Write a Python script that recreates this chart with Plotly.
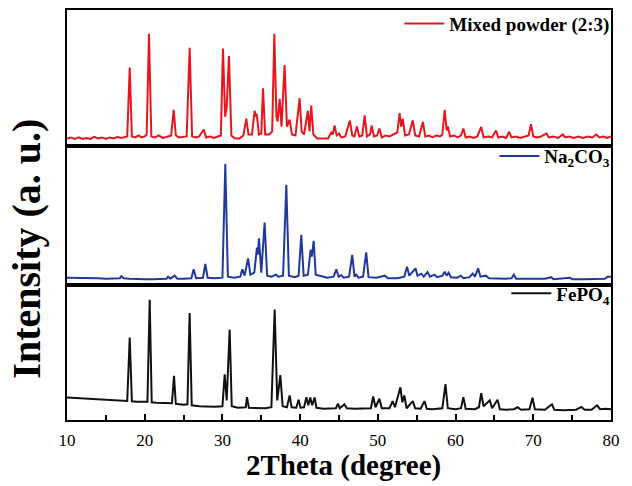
import plotly.graph_objects as go
from plotly.subplots import make_subplots

# ---------------- data ----------------
# FePO4 pattern: 2theta (deg) and intensity (a.u.)
fepo4_x = [10.0, 11, 12, 13, 14, 15, 16, 17, 17.75, 18.07, 18.35, 19, 20.0, 20.35, 20.64, 20.9, 21.5, 22.5,
           23.5, 23.77, 24.0, 25.0, 25.5, 25.78, 26.05, 27, 28, 29, 30.0, 30.29, 30.55, 30.93, 31.2, 32,
           33.0, 33.16, 33.4, 34.5, 35.5, 36.3, 36.72, 37.05, 37.45, 37.75, 38.3, 38.65, 38.9, 39.5, 39.8,
           40.05, 40.5, 40.8, 41.05, 41.3, 41.55, 41.86, 42.1, 43, 44, 44.6, 44.87, 45.1, 45.7, 46.0, 47,
           48, 49.1, 49.4, 49.7, 50.2, 50.5, 51.5, 51.9, 52.2, 52.9, 53.15, 53.4, 53.7, 54.5, 54.8, 55.5,
           56.0, 56.3, 57, 58.3, 58.7, 59.0, 60, 60.7, 61.0, 61.3, 62.5, 63.0, 63.3, 63.6, 64.4, 64.7, 65.4,
           65.7, 66.5, 67.5, 68.0, 68.4, 69.5, 69.9, 70.2, 71.5, 72.4, 72.7, 74, 75.5, 76.2, 76.6, 77.5,
           78.2, 78.6, 79.3, 80]
fepo4_y = [23, 22.5, 22, 21.5, 21, 20.5, 20, 19.5, 19.5, 84, 19, 18.5, 18, 18.5, 122.7, 18, 17.5, 17,
           17, 45, 16.5, 15.5, 16, 109, 15, 14, 13.5, 13.5, 14, 46.7, 20, 92.3, 14, 12.5,
           13, 23.3, 12.5, 12, 12, 13, 112.7, 20, 45.7, 14, 13, 25, 13, 12.5, 20.7,
           12.5, 13, 23.3, 15, 23, 15, 23, 12.5, 11.5, 11.5, 12, 16.7, 12, 16, 12, 11.5,
           11.5, 12, 24, 13, 21.7, 12, 12, 19.3, 13, 33.3, 18, 25, 12, 19.3, 12, 11.5,
           19.3, 11.5, 11, 12, 36.7, 12, 11, 12, 23.3, 11.5, 11, 13, 27.3, 14, 20, 12, 20.7,
           11, 10.5, 11, 13, 10.5, 11, 22.7, 11, 10.5, 16, 10.5, 10, 10.5, 13.3, 10.5, 10.5,
           15, 11, 11.5, 11]

# Na2CO3 pattern
na2co3_x = [10, 11, 12, 13, 14, 15, 16, 16.8, 17.0, 17.3, 18, 19, 20, 21, 22, 22.8, 23.0, 23.3, 23.85,
            24.2, 25, 26.0, 26.3, 26.6, 27.5, 27.8, 28.1, 29, 30.0, 30.37, 30.7, 31.5, 32.3, 32.56,
            32.85, 33.3, 33.6, 34.1, 34.44, 34.55, 34.7, 35.0, 35.43, 35.75, 36.3, 36.9, 37.2, 37.8,
            38.22, 38.55, 39.3, 39.8, 40.15, 40.45, 41.0, 41.35, 41.5, 41.74, 42.0, 42.7, 43.5, 44.3,
            44.66, 44.95, 45.3, 45.6, 46.3, 46.7, 47.0, 47.2, 47.5, 48.1, 48.5, 48.8, 49.8, 50.9, 51.3,
            52.5, 53.4, 53.75, 54.05, 54.85, 55.1, 55.6, 55.9, 56.4, 56.7, 57.3, 57.6, 58.3, 58.6, 58.85,
            59.1, 59.4, 60.2, 60.7, 61.0, 61.8, 62.2, 62.5, 62.9, 63.2, 63.9, 64.3, 65.5, 66.5, 67.2,
            67.5, 67.8, 69, 70, 71.5, 72.3, 72.6, 74.7, 75, 76.5, 78, 79.2, 79.6, 80]
na2co3_y = [7, 7, 6.5, 6.5, 6.5, 6, 6, 6.5, 8.5, 6.5, 6, 5.5, 5.5, 5.5, 5.5, 6, 8, 6, 9,
            6, 6, 6.5, 15.3, 6.5, 7, 20.7, 7, 6.5, 7, 120.3, 8, 7, 8, 15.3,
            9, 26.3, 10, 12, 37, 30, 46.3, 12, 62, 9, 8, 10, 8, 9,
            99.7, 9, 7.5, 9, 49.7, 9, 10, 34.7, 28, 43.7, 10, 8.5, 7, 8,
            15.3, 8, 9.5, 7, 8, 29.7, 8, 10, 7, 8, 32.3, 7.5, 7, 9, 6.5,
            6.5, 8, 18, 9, 16.3, 9, 11, 8, 12.7, 8, 10, 7.5, 9, 13, 9,
            12, 7.5, 7, 9, 6.5, 7.5, 11, 8, 16.3, 8, 9, 6.5, 6, 6, 6.5,
            10, 6, 6, 5.5, 6, 7.5, 5.5, 7, 5.5, 5.5, 6, 6, 8, 8]

# Mixed powder (2:3) pattern
mixed_x = [10, 10.5, 11, 11.5, 12, 12.5, 13, 13.5, 14, 14.5, 15, 15.5, 16, 16.5, 17, 17.5, 17.75, 18.07,
           18.35, 18.8, 19.2, 19.6, 20.0, 20.25, 20.55, 20.85, 21.3, 21.8, 22.3, 22.8, 23.4, 23.73, 24.0,
           24.4, 25.0, 25.4, 25.78, 26.1, 26.6, 27.0, 27.6, 27.9, 28.4, 28.9, 29.4, 29.8, 30.07, 30.35,
           30.55, 30.84, 31.15, 31.6, 32.2, 32.7, 33.07, 33.35, 33.8, 34.14, 34.3, 34.4, 34.7, 35.0,
           35.22, 35.5, 36.0, 36.4, 36.68, 36.95, 37.1, 37.37, 37.6, 38.0, 38.3, 38.65, 38.95, 39.4,
           39.93, 40.2, 40.5, 40.8, 41.0, 41.2, 41.43, 41.7, 42.2, 43.0, 43.6, 44.0, 44.2, 44.43, 44.7,
           45.0, 45.3, 45.8, 46.4, 46.7, 47.0, 47.3, 47.6, 48.0, 48.3, 48.6, 49.0, 49.2, 49.5, 49.9,
           50.2, 50.5, 51.0, 51.5, 52.0, 52.5, 52.8, 53.0, 53.2, 53.5, 54.0, 54.5, 54.8, 55.3, 55.8,
           56.1, 56.6, 57.0, 57.5, 58.0, 58.3, 58.6, 58.85, 59.0, 59.3, 59.8, 60.3, 60.7, 61.0, 61.3,
           61.8, 62.3, 62.8, 63.3, 63.6, 64.2, 64.7, 65.2, 65.5, 66.0, 66.5, 66.9, 67.2, 67.8, 68.3,
           68.9, 69.4, 69.7, 70.0, 70.5, 71.0, 71.7, 72.0, 72.6, 73.2, 73.8, 74.1, 74.6, 75.2, 75.8,
           76.4, 77.0, 77.6, 78.1, 78.5, 79.0, 79.5, 80]
mixed_y = [8, 9, 7.5, 9, 7.5, 8.5, 7.5, 9.5, 8, 9, 7.5, 9, 8, 9.5, 8.5, 9, 10, 79.7,
           10, 9, 11, 9, 10, 12, 114, 10, 9, 11, 8.5, 9.5, 11, 37, 11,
           9, 9.5, 10, 99.7, 10, 9, 10, 17, 9, 10, 8.5, 10, 11, 99, 30,
           40, 91.3, 11, 8, 8, 11, 28, 12, 12, 36, 30, 33, 12, 13,
           58.7, 12, 12, 15, 114, 30, 25, 48, 20, 82.3, 20, 27, 12, 11,
           48.7, 15, 12, 25, 36, 15, 41.3, 12, 8, 8, 8, 14, 12, 21, 11,
           13, 9, 10, 26, 11, 10, 20, 10, 11, 31.3, 10, 12, 21, 10, 11,
           18, 9, 11, 10, 12, 14, 33.7, 20, 28, 11, 12, 26.3, 11, 10, 24.7,
           10, 11, 9, 11, 10, 12, 37, 16, 20, 10, 11, 9, 11, 18, 9,
           10, 8.5, 10, 19.7, 9, 10, 9, 16, 9, 10, 8.5, 14.7, 9, 10, 8.5,
           10, 11, 22.3, 10, 9, 10, 13, 9, 10, 8.5, 12, 9, 10, 8.5, 10,
           8.5, 10, 9, 12, 9, 10, 8.5, 10]

series_names = ["Mixed powder (2:3)", "Na<sub>2</sub>CO<sub>3</sub>", "FePO<sub>4</sub>"]
series_colors = ["#e8161c", "#1f3a9e", "#111111"]
x_tick_vals = [10, 20, 30, 40, 50, 60, 70, 80]

# ---------------- figure ----------------
fig = make_subplots(rows=3, cols=1, shared_xaxes=True, vertical_spacing=0)

all_x = [mixed_x, na2co3_x, fepo4_x]
all_y = [mixed_y, na2co3_y, fepo4_y]
legend_ids = ["legend", "legend2", "legend3"]
for i in range(3):
    fig.add_trace(go.Scatter(x=all_x[i], y=all_y[i], mode="lines",
                             name="<b>" + series_names[i] + "</b>",
                             line=dict(color=series_colors[i], width=2),
                             legend=legend_ids[i]), row=i + 1, col=1)

serif = "Liberation Serif"
domains = [[0.6675, 1.0], [0.330, 0.6675], [0.0, 0.330]]
legend_y = [1.013, 0.69, 0.355]

for i in range(3):
    xa = "xaxis" if i == 0 else f"xaxis{i+1}"
    ya = "yaxis" if i == 0 else f"yaxis{i+1}"
    fig.layout[ya].update(domain=domains[i], range=[0, 138], showline=True, mirror=True,
                          linecolor="black", linewidth=2, showticklabels=False, ticks="",
                          showgrid=False, zeroline=False)
    fig.layout[xa].update(range=[10, 80], showline=True, mirror=True, linecolor="black",
                          linewidth=2, showgrid=False, zeroline=False)
    if i < 2:
        fig.layout[xa].update(showticklabels=False, ticks="")
    else:
        fig.layout[xa].update(tickvals=x_tick_vals, ticks="inside", ticklen=6, tickwidth=1.5,
                              tickcolor="black", showticklabels=True,
                              tickfont=dict(family=serif, size=17, color="black"),
                              minor=dict(dtick=5, tick0=5, ticks="inside", ticklen=5,
                                         tickwidth=1.5, tickcolor="black"),
                              ticklabelstandoff=4)

leg_common = dict(x=1.008, xanchor="right", yanchor="top", bgcolor="rgba(0,0,0,0)",
                  borderwidth=0, font=dict(family=serif, size=19, color="black"),
                  itemwidth=40, tracegroupgap=0)
fig.update_layout(
    legend=dict(y=legend_y[0], **leg_common),
    legend2=dict(y=legend_y[1], **leg_common),
    legend3=dict(y=legend_y[2], **leg_common),
)

fig.add_annotation(text="<b>Intensity (a. u.)</b>", xref="paper", yref="paper",
                   x=-0.076, y=0.417, xanchor="center", yanchor="middle", textangle=-90,
                   showarrow=False, font=dict(family=serif, size=40, color="black"))
fig.add_annotation(text="<b>2Theta (degree)</b>", xref="paper", yref="paper",
                   x=0.509, y=-0.111, xanchor="center", yanchor="middle",
                   showarrow=False, font=dict(family=serif, size=29, color="black"))

fig.update_layout(width=632, height=486, margin=dict(l=67, r=21, t=5, b=66),
                  paper_bgcolor="white", plot_bgcolor="white", showlegend=True)

fig.write_html("out.html", config={"displayModeBar": False},
               post_script="document.body.style.margin='0px';document.body.style.padding='0px';")
